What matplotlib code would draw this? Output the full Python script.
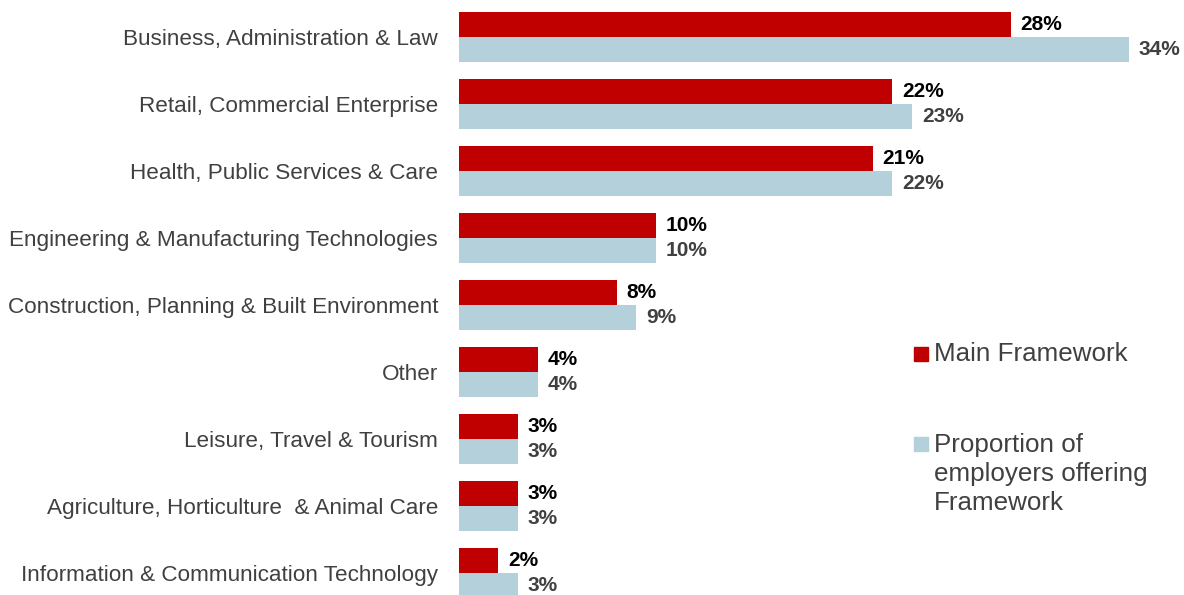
import matplotlib.pyplot as plt
import numpy as np
from matplotlib.patches import Rectangle

plt.rcParams['font.family'] = ['Liberation Sans', 'DejaVu Sans']

categories = [
    "Business, Administration & Law",
    "Retail, Commercial Enterprise",
    "Health, Public Services & Care",
    "Engineering & Manufacturing Technologies",
    "Construction, Planning & Built Environment",
    "Other",
    "Leisure, Travel & Tourism",
    "Agriculture, Horticulture  & Animal Care",
    "Information & Communication Technology",
]
main_framework = [28, 22, 21, 10, 8, 4, 3, 3, 2]
offering = [34, 23, 22, 10, 9, 4, 3, 3, 3]

red = '#c00000'
blue = '#b4d0db'
grey = '#404040'

fig = plt.figure(figsize=(11.84, 5.95), dpi=100)
ax = fig.add_axes([459 / 1184, 0, 1 - 459 / 1184, 1])

y = np.arange(len(categories))
h = 25 / 67
ax.barh(y - h / 2, main_framework, height=h, color=red)
ax.barh(y + h / 2, offering, height=h, color=blue)

for i in range(len(categories)):
    ax.text(main_framework[i] + 0.5, y[i] - h / 2, "%d%%" % main_framework[i],
            va='center', ha='left', fontsize=15, fontweight='bold', color='black')
    ax.text(offering[i] + 0.5, y[i] + h / 2, "%d%%" % offering[i],
            va='center', ha='left', fontsize=15, fontweight='bold', color=grey)

ax.set_xlim(0, (1184 - 459) / 19.7)
ax.set_ylim((595 - 37) / 67, -37 / 67)
ax.set_yticks(y)
ax.set_yticklabels(categories, fontsize=16.2, color=grey)
ax.tick_params(axis='y', length=0, pad=15)
ax.set_xticks([])
for s in ax.spines.values():
    s.set_visible(False)

# legend drawn by hand
fig.patches.append(Rectangle((914 / 1184, 1 - 361 / 595), 14 / 1184, 14 / 595,
                             transform=fig.transFigure, color=red))
fig.text(934 / 1184, 1 - 354 / 595, "Main Framework", fontsize=18.7, color=grey,
         va='center', ha='left')
fig.patches.append(Rectangle((914 / 1184, 1 - 451 / 595), 14 / 1184, 14 / 595,
                             transform=fig.transFigure, color=blue))
fig.text(934 / 1184, 1 - 474 / 595, "Proportion of\nemployers offering\nFramework",
         fontsize=18.7, color=grey, va='center', ha='left', linespacing=1.27)

fig.savefig('out.png', dpi=100)
